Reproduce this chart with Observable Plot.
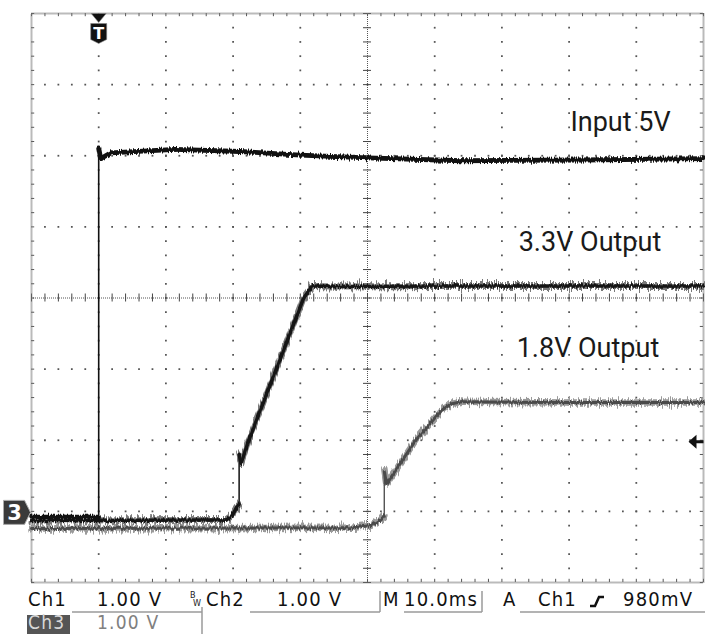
<!DOCTYPE html>
<html>
<head>
<meta charset="utf-8">
<script src="https://cdn.jsdelivr.net/npm/d3@7"></script>
<script src="https://cdn.jsdelivr.net/npm/@observablehq/plot@0.6"></script>
<style>
  html, body { margin: 0; padding: 0; background: #fff; }
  #wrap { width: 705px; height: 634px; position: relative; overflow: hidden; background: #fff; }
  #wrap svg { display: block; }
</style>
</head>
<body>
<div id="wrap"></div>
<script>
// ---- Channel traces: time (ms, trigger at 0) and voltage (V, ground marker at 0) ----
const ch1Time = [-10, 0, 0, 0.3, 1.8, 11.4, 21, 30, 40, 54, 72, 90];
const ch1Volt = [-0.08, -0.08, 5.11, 4.96, 5.04, 5.09, 5.06, 5.01, 4.97, 4.93, 4.94, 4.96];

const ch2Time = [-10, 19, 19.8, 20.5, 20.9, 20.9, 21.2, 22.3, 30.5, 31.8, 35, 50, 70, 90];
const ch2Volt = [-0.13, -0.12, -0.07, 0.05, 0.1, 0.8, 0.68, 0.99, 3.0, 3.17, 3.16, 3.17, 3.17, 3.17];

const ch3Time = [-10, 38, 40.5, 42, 42.5, 42.5, 42.8, 47.1, 50.9, 52.4, 54, 70, 90];
const ch3Volt = [-0.24, -0.23, -0.2, -0.12, -0.06, 0.56, 0.38, 0.99, 1.41, 1.51, 1.54, 1.53, 1.53];

// ---- Annotations ----
const labelText = ["Input 5V", "3.3V Output", "1.8V Output"];
const labelTime = [70.2, 62.5, 62.2];
const labelVolt = [5.35, 3.66, 2.17];

// ---- Graticule ----
const xDomain = [-10, 90];   // 10 ms/div, 10 divisions
const yDomain = [-1, 7];     // 1 V/div, 8 divisions
const xMajor = d3.range(-10, 90.001, 10);
const yMajor = d3.range(-1, 7.001, 1);
const xMinor = d3.range(-10, 90.001, 2);
const yMinor = d3.range(-1, 7.001, 0.2);
const xCenter = 40, yCenter = 3;
const triggerTime = 0, triggerLevel = 0.98, groundLevel = 0;

// ---- Status bar ----
const statusRow1 = [
  {t: "Ch1", x: 28}, {t: "1.00 V", x: 97}, {t: "Ch2", x: 206}, {t: "1.00 V", x: 277},
  {t: "M", x: 383}, {t: "10.0ms", x: 404}, {t: "A", x: 503}, {t: "Ch1", x: 538}, {t: "980mV", x: 623}
];
const statusRow2 = [{t: "Ch3", x: 28, hl: true}, {t: "1.00 V", x: 97}];

const zip = (ts, vs) => ts.map((t, i) => ({t, v: vs[i]}));
const ch1 = zip(ch1Time, ch1Volt);
const ch2 = zip(ch2Time, ch2Volt);
const ch3 = zip(ch3Time, ch3Volt);
const segs = data => d3.pairs(data).map(([a, b]) => ({x1: a.t, y1: a.v, x2: b.t, y2: b.v, vert: a.t === b.t}));
const labels = labelText.map((s, i) => ({s, t: labelTime[i], v: labelVolt[i]}));

const gridDots = [];
for (const x of xMajor) if (x > xDomain[0] && x < xDomain[1] && x !== xCenter)
  for (const y of yMinor) if (y > yDomain[0] + 1e-6 && y < yDomain[1] - 1e-6) gridDots.push({x, y});
for (const y of yMajor) if (y > yDomain[0] && y < yDomain[1] && y !== yCenter)
  for (const x of xMinor) if (x > xDomain[0] + 1e-6 && x < xDomain[1] - 1e-6) gridDots.push({x, y});

const pxX = 672 / 100, pxY = 569 / 8; // px per unit (for tick lengths)
const tx = 4 / pxX, ty = 4 / pxY;

const shieldSymbol = {
  draw(ctx) {
    ctx.moveTo(-7.5, 0); ctx.lineTo(7.5, 0); ctx.lineTo(0, 9); ctx.closePath();
    ctx.moveTo(-8, 10); ctx.lineTo(8, 10); ctx.lineTo(8, 26); ctx.lineTo(0, 30); ctx.lineTo(-8, 26); ctx.closePath();
  }
};
const groundSymbol = {
  draw(ctx) {
    ctx.moveTo(-28, -11); ctx.lineTo(-7, -11); ctx.lineTo(-1, 1); ctx.lineTo(-7, 13); ctx.lineTo(-28, 13); ctx.closePath();
  }
};
const arrowSymbol = {
  draw(ctx) {
    ctx.moveTo(-15, 0); ctx.lineTo(-7, -7); ctx.lineTo(-7, 7); ctx.closePath();
    ctx.moveTo(-8, -1.5); ctx.lineTo(0, -1.5); ctx.lineTo(0, 1.5); ctx.lineTo(-8, 1.5); ctx.closePath();
  }
};

const traceLink = (data, stroke, wide, thin) => Plot.link(segs(data), {
  x1: "x1", y1: "y1", x2: "x2", y2: "y2", stroke,
  strokeWidth: d => d.vert ? thin : wide, strokeLinecap: "round"
});

const plot = Plot.plot({
  width: 705, height: 584,
  marginTop: 13, marginBottom: 2, marginLeft: 31, marginRight: 2,
  x: {domain: xDomain, axis: null},
  y: {domain: yDomain, axis: null},
  style: {background: "white", overflow: "visible"},
  marks: [
    Plot.dot(gridDots, {x: "x", y: "y", r: 1, symbol: "square", fill: "#555", stroke: null}),
    Plot.ruleX([xCenter], {stroke: "#555", strokeDasharray: "1 1"}),
    Plot.ruleY([yCenter], {stroke: "#555", strokeDasharray: "1 1"}),
    Plot.ruleY(yMinor, {y: d => d, x1: xCenter - tx, x2: xCenter + tx, stroke: "#444"}),
    Plot.ruleX(xMinor, {x: d => d, y1: yCenter - ty, y2: yCenter + ty, stroke: "#444"}),
    // border ticks
    Plot.ruleX(xMinor, {x: d => d, y1: yDomain[1], y2: yDomain[1] - ty * 0.8, stroke: "#555"}),
    Plot.ruleX(xMinor, {x: d => d, y1: yDomain[0], y2: yDomain[0] + ty * 0.8, stroke: "#555"}),
    Plot.ruleY(yMinor, {y: d => d, x1: xDomain[0], x2: xDomain[0] + tx * 0.8, stroke: "#555"}),
    Plot.ruleY(yMinor, {y: d => d, x1: xDomain[1], x2: xDomain[1] - tx * 0.8, stroke: "#555"}),
    Plot.frame({stroke: "#777", strokeWidth: 2, strokeDasharray: "1 1"}),
    // traces (links in this order: ch3 band, ch3 core, ch2 band, ch2 core, ch1)
    traceLink(ch3, "#9a9a9a", 6.5, 1.3),
    traceLink(ch3, "#4a4a4a", 3, 1.1),
    traceLink(ch2, "#7a7a7a", 6, 1.3),
    traceLink(ch2, "#151515", 3.5, 1.3),
    traceLink(ch1, "#111", 4.8, 1.6),
    // labels
    Plot.text(labels, {x: "t", y: "v", text: "s", textAnchor: "start", lineAnchor: "bottom",
      fontFamily: "Roboto, 'Liberation Sans', sans-serif", fontSize: 27, fill: "#1a1a1a"}),
    // trigger position marker
    Plot.dot([triggerTime], {x: d => d, y: () => yDomain[1], symbol: shieldSymbol, r: 5, fill: "#111", stroke: "#888", strokeWidth: 0.6}),
    Plot.text([triggerTime], {x: d => d, y: () => yDomain[1], text: () => "T", dy: 20, fill: "white",
      fontFamily: "'DejaVu Sans', sans-serif", fontWeight: "bold", fontSize: 16}),
    // ground reference marker for Ch3
    Plot.dot([groundLevel], {x: () => xDomain[0], y: d => d, symbol: groundSymbol, r: 5, fill: "#3a3a3a", stroke: "#aaa", strokeWidth: 1}),
    Plot.text([groundLevel], {x: () => xDomain[0], y: d => d, text: () => "3", dx: -17, dy: 1.5, fill: "white",
      fontFamily: "'DejaVu Sans', sans-serif", fontWeight: "bold", fontSize: 21}),
    // trigger level arrow
    Plot.dot([triggerLevel], {x: () => xDomain[1], y: d => d, symbol: arrowSymbol, r: 5, fill: "#111", stroke: null})
  ]
});

// acquisition-noise look for the traces (render filter only; data untouched)
const svg = d3.select(plot);
const defs = svg.insert("defs", ":first-child");
const mkNoise = (id, freq, scale, seed) => {
  const f = defs.append("filter").attr("id", id).attr("filterUnits", "userSpaceOnUse")
    .attr("x", 0).attr("y", 0).attr("width", 705).attr("height", 584)
    .attr("color-interpolation-filters", "sRGB");
  f.append("feTurbulence").attr("type", "fractalNoise").attr("baseFrequency", freq)
    .attr("numOctaves", 2).attr("seed", seed).attr("result", "t");
  f.append("feColorMatrix").attr("in", "t").attr("type", "matrix")
    .attr("values", "0 0 0 0 0.5  0 1 0 0 0  0 0 0 0 0  0 0 0 0 1").attr("result", "m");
  f.append("feDisplacementMap").attr("in", "SourceGraphic").attr("in2", "m")
    .attr("scale", scale).attr("xChannelSelector", "R").attr("yChannelSelector", "G");
};
mkNoise("nz-band3", "0.9 0.02", 12, 3);
mkNoise("nz-core3", "0.9 0.02", 5, 7);
mkNoise("nz-band2", "0.9 0.02", 14, 11);
mkNoise("nz-core2", "0.9 0.02", 5, 5);
mkNoise("nz-ch1", "0.9 0.02", 6, 9);
const filt = ["nz-band3", "nz-core3", "nz-band2", "nz-core2", "nz-ch1"];
svg.selectAll('g[aria-label="link"]').each(function (d, i) {
  if (filt[i]) d3.select(this).attr("filter", `url(#${filt[i]})`);
});

const wrap = document.getElementById("wrap");
wrap.appendChild(plot);

// ---- status bar below the plot ----
const sb = d3.select(wrap).append("svg").attr("width", 705).attr("height", 50)
  .style("font-family", "'DejaVu Sans Condensed', 'DejaVu Sans', sans-serif")
  .style("font-stretch", "condensed");
const lineCol = "#9a9a9a";
const seg = (x1, y1, x2, y2) => sb.append("line").attr("x1", x1).attr("y1", y1).attr("x2", x2).attr("y2", y2)
  .attr("stroke", lineCol).attr("stroke-width", 1.5);
seg(72, 28, 202, 28); seg(202, 23, 202, 50);
seg(250, 28, 380, 28); seg(380, 7, 380, 28);
seg(404, 28, 482, 28); seg(482, 7, 482, 28);
seg(520, 28, 705, 28);
sb.append("rect").attr("x", 27).attr("y", 31).attr("width", 43).attr("height", 19).attr("fill", "#555");
sb.selectAll("text.r1").data(statusRow1).join("text").attr("class", "r1")
  .attr("x", d => d.x).attr("y", 22).attr("font-size", 20).attr("letter-spacing", 1.2).attr("fill", "#111").text(d => d.t);
sb.selectAll("text.r2").data(statusRow2).join("text").attr("class", "r2")
  .attr("x", d => d.x).attr("y", 45).attr("font-size", 19).attr("letter-spacing", 1.2)
  .attr("fill", d => d.hl ? "#d8d8d8" : "#808080").text(d => d.t);
sb.append("text").attr("x", 190).attr("y", 14).attr("font-size", 9).attr("fill", "#222").text("B");
sb.append("text").attr("x", 193).attr("y", 22).attr("font-size", 9).attr("fill", "#222").text("W");
sb.append("path").attr("d", "M590,22 L595,22 L599,13 L604,13").attr("fill", "none")
  .attr("stroke", "#111").attr("stroke-width", 2.5);
</script>
</body>
</html>
